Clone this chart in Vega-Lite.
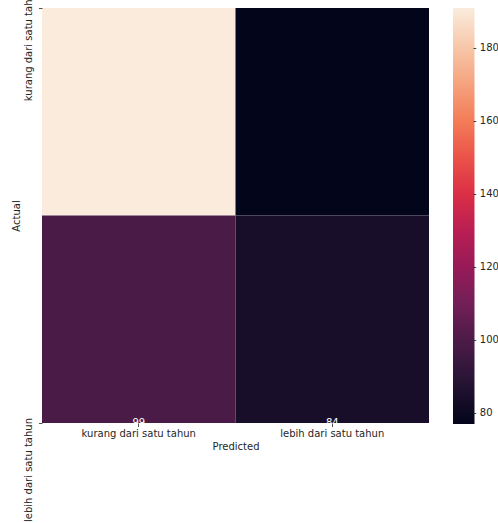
{
  "$schema": "https://vega.github.io/schema/vega-lite/v6.json",
  "width": 387,
  "height": 415,
  "autosize": {"type": "none"},
  "padding": {"left": 42, "top": 8, "right": 69, "bottom": 100},
  "background": "white",
  "config": {"view": {"stroke": null}, "font": "DejaVu Sans"},
  "data": {
    "values": [
      {"actual": "kurang dari satu tahun", "predicted": "kurang dari satu tahun", "count": 191},
      {"actual": "kurang dari satu tahun", "predicted": "lebih dari satu tahun", "count": 77},
      {"actual": "lebih dari satu tahun", "predicted": "kurang dari satu tahun", "count": 99},
      {"actual": "lebih dari satu tahun", "predicted": "lebih dari satu tahun", "count": 84}
    ]
  },
  "encoding": {
    "x": {
      "field": "predicted",
      "type": "nominal",
      "sort": ["kurang dari satu tahun", "lebih dari satu tahun"],
      "scale": {"paddingInner": 0, "paddingOuter": 0},
      "axis": {
        "title": "Predicted",
        "labelAngle": 0,
        "domain": false,
        "grid": false,
        "tickSize": 3.5,
        "tickWidth": 0.8,
        "tickColor": "#262626",
        "labelPadding": 1.5,
        "labelFontSize": 10,
        "labelColor": "#262626",
        "titleFontSize": 10,
        "titleFontWeight": "normal",
        "titleColor": "#262626",
        "titlePadding": 3,
        "labelLimit": 0
      }
    },
    "y": {
      "field": "actual",
      "type": "nominal",
      "sort": ["kurang dari satu tahun", "lebih dari satu tahun"],
      "scale": {"range": [-207.5, 622.5], "paddingInner": 0, "paddingOuter": 0},
      "axis": {
        "title": "Actual",
        "labelAngle": 270,
        "labelAlign": "center",
        "labelBaseline": "bottom",
        "labelOffset": {"condition": {"test": "datum.value == 'kurang dari satu tahun'", "value": 36}, "value": 47},
        "domain": false,
        "grid": false,
        "tickSize": 3.5,
        "tickWidth": 0.8,
        "tickColor": "#262626",
        "labelPadding": 5.5,
        "labelFontSize": 10,
        "labelColor": "#262626",
        "titleFontSize": 10,
        "titleFontWeight": "normal",
        "titleColor": "#262626",
        "titlePadding": 2,
        "labelLimit": 0
      }
    }
  },
  "layer": [
    {
      "mark": {"type": "rect", "clip": true},
      "encoding": {
        "color": {
          "field": "count",
          "type": "quantitative",
          "scale": {
            "domain": [77, 93.286, 109.571, 125.857, 142.143, 158.429, 174.714, 191],
            "range": ["#03051a", "#35193e", "#701f57", "#ad1759", "#e13342", "#f37651", "#f6b48f", "#faebdd"],
            "interpolate": "rgb"
          },
          "legend": {
            "title": null,
            "orient": "none",
            "legendX": 411,
            "legendY": 0,
            "direction": "vertical",
            "gradientLength": 416,
            "gradientThickness": 21.5,
            "gradientStrokeWidth": 0,
            "padding": 0,
            "values": [80, 100, 120, 140, 160, 180],
            "labelExpr": "'- ' + datum.label",
            "labelFontSize": 10,
            "labelColor": "#262626",
            "labelOffset": -1.5,
            "labelOverlap": false
          }
        }
      }
    },
    {
      "transform": [{"filter": "datum.actual == 'kurang dari satu tahun'"}],
      "mark": {"type": "text", "clip": true, "baseline": "bottom", "dy": 2, "fontSize": 10},
      "encoding": {
        "text": {"field": "count", "type": "quantitative"},
        "color": {"condition": {"test": "datum.count > 150", "value": "#262626"}, "value": "#ffffff"}
      }
    },
    {
      "transform": [{"filter": "datum.actual == 'lebih dari satu tahun'"}],
      "mark": {"type": "text", "clip": true, "baseline": "middle", "fontSize": 10},
      "encoding": {
        "text": {"field": "count", "type": "quantitative"},
        "color": {"value": "#ffffff"}
      }
    }
  ]
}
